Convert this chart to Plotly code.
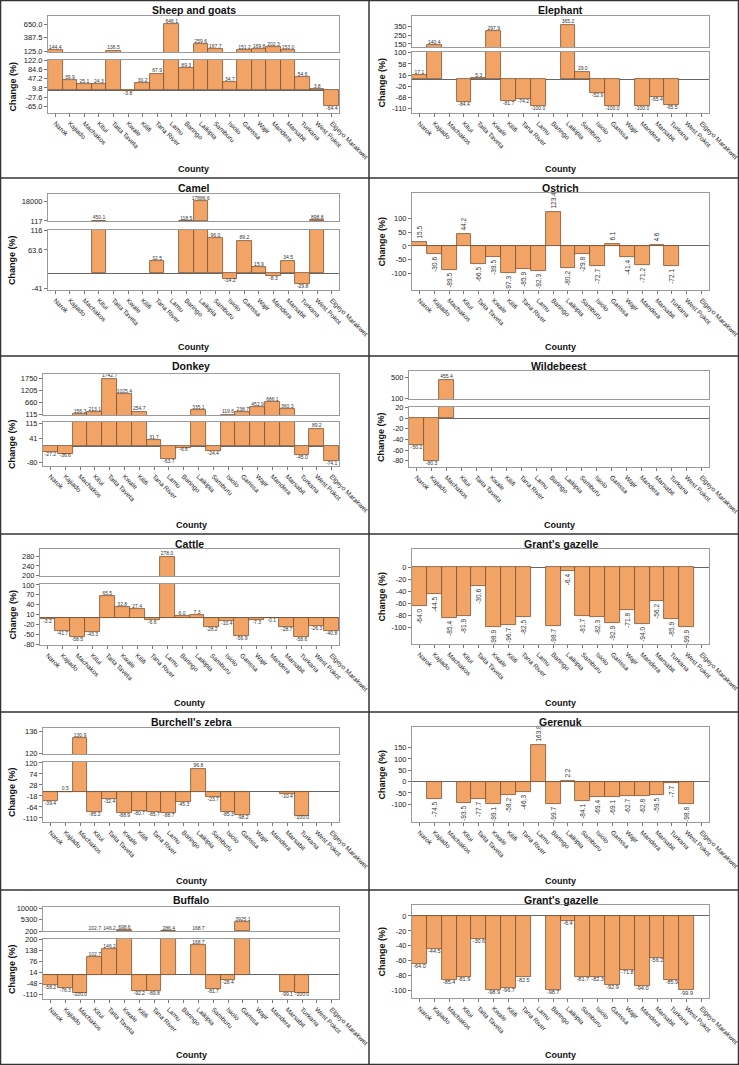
import plotly.graph_objects as go

W, H = 739, 1065

counties = ["Narok", "Kajiado", "Machakos", "Kitui", "Taita Taveta", "Kwale", "Kilifi",
            "Tana River", "Lamu", "Baringo", "Laikipia", "Samburu", "Isiolo", "Garissa",
            "Wajir", "Mandera", "Marsabit", "Turkana", "West Pokot", "Elgeyo Marakwet"]

# % change per county (None = no data)
sheep_goats = [144.4, 39.9, 25.1, 24.3, 136.5, -3.8, 30.2, 67.9, 646.1, 89.3,
               259.6, 167.7, 34.7, 151.2, 169.8, 202.3, 153.0, 54.6, 3.8, -64.4]
elephant = [17.1, 140.4, None, -84.4, 5.3, 297.9, -81.7, -74.2, -100.0, None,
            365.2, 29.0, -52.9, -100.0, None, -100.0, -65.4, -95.5, None, None]
camel = [None, None, None, 450.1, None, None, None, 32.5, None, 118.5,
         17886.6, 96.0, -14.2, 89.2, 15.9, -8.3, 34.5, -29.8, 898.8, None]
ostrich = [15.5, -30.6, -89.5, 44.2, -66.5, -39.5, -97.3, -85.9, -92.3, 123.4,
           -80.2, -29.8, -72.7, 6.1, -41.4, -71.2, 4.6, -72.1, None, None]
donkey = [-27.2, -36.6, 156.3, 213.1, 1742.7, 1025.4, 254.7, 31.7, -63.7, -6.6,
          335.1, -24.4, 119.6, 238.7, 452.9, 686.1, 360.3, -45.0, 89.2, -74.1]
wildebeest = [-50.2, -80.3, 455.4, None, None, None, None, None, None, None,
              None, None, None, None, None, None, None, None, None, None]
cattle = [-3.2, -41.7, -58.5, -43.3, 65.5, 32.8, 27.4, -6.6, 278.0, 6.0,
          7.3, -28.2, -10.4, -56.9, -7.3, -0.1, -28.7, -58.6, -26.3, -40.8]
grants_gazelle = [-64.0, -44.5, -85.4, -81.9, -30.6, -98.9, -96.7, -82.5, None, -98.7,
                  -6.4, -81.7, -82.3, -92.9, -71.8, -94.0, -56.2, -85.9, -99.9, None]
burchells_zebra = [-39.4, 0.5, 130.9, -85.2, -32.4, -88.9, -80.7, -85.7, -88.7, -45.3,
                   96.8, -23.7, -85.3, -98.2, None, None, -10.4, -100.0, None, None]
gerenuk = [None, -74.5, None, -93.5, -77.7, -99.1, -58.2, -46.3, 163.8, -99.7,
           2.2, -84.1, -69.4, -69.1, -62.7, -62.8, -59.5, -7.7, -98.8, None]
buffalo = [-58.2, -76.3, -100.0, 102.7, 146.2, 698.6, -92.2, -89.8, 286.4, None,
           168.7, -81.7, -28.4, 3925.1, None, None, -99.1, -100.0, None, None]

# tick labels of the axes
sheep_up_ticks = [125.0, 387.5, 650.0]
sheep_lo_ticks = [-65.0, -27.6, 9.8, 47.2, 84.6, 122.0]
elephant_up_ticks = [150, 250, 350]
elephant_lo_ticks = [-110, -68, -26, 16, 58, 100]
camel_up_ticks = [117, 18000]
camel_lo_ticks = [-41, 63.6, 116]
ostrich_ticks = [-100, -50, 0, 50, 100]
donkey_up_ticks = [115, 660, 1205, 1750]
donkey_lo_ticks = [-80, 41, 115]
wildebeest_up_ticks = [100, 500]
wildebeest_lo_ticks = [-80, -60, -40, -20, 0, 20]
cattle_up_ticks = [200, 240, 280]
cattle_lo_ticks = [-80, -50, -20, 10, 40, 70, 100]
gazelle_ticks = [-100, -80, -60, -40, -20, 0]
zebra_up_ticks = [120, 136]
zebra_lo_ticks = [-110, -64, -18, 28, 74, 120]
gerenuk_ticks = [-100, -50, 0, 50, 100, 150]
buffalo_up_ticks = [200, 5300, 10000]
buffalo_lo_ticks = [-110, -48, 14, 76, 138, 200]

FONT = "Liberation Sans, Arial, sans-serif"
BAR = "rgb(242,164,102)"
EDGE = "rgb(120,82,50)"
FRAME = "#9a9a9a"
TXT = "#222222"

ROW_TOP = [0, 178, 356, 534, 712, 890]
COL_LEFT = [0, 369]

panels = [
    dict(title="Sheep and goats", vals=sheep_goats, col=0, row=0, x=(48, 339), fmt="{:.1f}",
         up=(16, 52), up_range=[112, 810], up_ticks=sheep_up_ticks,
         lo=(60, 113), lo_range=[-92, 123], lo_ticks=sheep_lo_ticks, up_min=122),
    dict(title="Elephant", vals=elephant, col=1, row=0, x=(43, 340), fmt="{:g}",
         up=(16, 47), up_range=[116, 463], up_ticks=elephant_up_ticks,
         lo=(52, 113), lo_range=[-126, 102.5], lo_ticks=elephant_lo_ticks, up_min=100),
    dict(title="Camel", vals=camel, col=0, row=1, x=(48, 339), fmt="{:g}",
         up=(16, 43), up_range=[100, 24500], up_ticks=camel_up_ticks,
         lo=(52, 112), lo_range=[-45.5, 117.8], lo_ticks=camel_lo_ticks, up_min=116),
    dict(title="Ostrich", vals=ostrich, col=1, row=1, x=(43, 340), fmt="{:g}",
         box=(15, 112), range=[-161, 193], ticks=ostrich_ticks, vertical=True),
    dict(title="Donkey", vals=donkey, col=0, row=2, x=(43, 339), fmt="{:g}",
         up=(18, 59), up_range=[100, 1950], up_ticks=donkey_up_ticks,
         lo=(66, 110), lo_range=[-98, 121.7], lo_ticks=donkey_lo_ticks, up_min=115),
    dict(title="Wildebeest", vals=wildebeest, col=1, row=2, x=(40, 340), fmt="{:g}",
         up=(15, 43), up_range=[87.5, 619], up_ticks=wildebeest_up_ticks,
         lo=(51, 111), lo_range=[-92, 21.3], lo_ticks=wildebeest_lo_ticks, up_min=20),
    dict(title="Cattle", vals=cattle, col=0, row=3, x=(40, 339), fmt="{:g}",
         up=(15, 42), up_range=[199, 309], up_ticks=cattle_up_ticks,
         lo=(50, 111), lo_range=[-83, 103], lo_ticks=cattle_lo_ticks, up_min=100),
    dict(title="Grant's gazelle", vals=grants_gazelle, col=1, row=3, x=(43, 340), fmt="{:g}",
         box=(15, 110), range=[-128, 30.5], ticks=gazelle_ticks, vertical=True),
    dict(title="Burchell's zebra", vals=burchells_zebra, col=0, row=4, x=(43, 339), fmt="{:g}",
         up=(16, 42), up_range=[119.5, 138.4], up_ticks=zebra_up_ticks,
         lo=(50, 110), lo_range=[-127, 124], lo_ticks=zebra_lo_ticks, up_min=120),
    dict(title="Gerenuk", vals=gerenuk, col=1, row=4, x=(43, 340), fmt="{:g}",
         box=(15, 110), range=[-178, 241], ticks=gerenuk_ticks, vertical=True),
    dict(title="Buffalo", vals=buffalo, col=0, row=5, x=(43, 339), fmt="{:g}",
         up=(17, 41), up_range=[200, 10700], up_ticks=buffalo_up_ticks,
         lo=(49, 109), lo_range=[-136.5, 203.8], lo_ticks=buffalo_lo_ticks, up_min=100),
    dict(title="Grant's gazelle", vals=grants_gazelle, col=1, row=5, x=(43, 340), fmt="{:g}",
         box=(15, 108), range=[-110, 14.7], ticks=gazelle_ticks, vertical=False),
]

fig = go.Figure()
axes = {}
annotations = []
shapes = []
count = [0]


def px(x):
    return x / W


def py(y):
    return 1 - y / H


def new_axes(x0, x1, y0, y1, yrange, ticks, fmt, xlabels):
    count[0] += 1
    s = "" if count[0] == 1 else str(count[0])
    axes["xaxis" + s] = dict(
        domain=[px(x0), px(x1)], anchor="y" + s, type="category", range=[-0.5, 19.5],
        categoryorder="array", categoryarray=counties, automargin=False,
        showline=True, mirror=True, linecolor=FRAME, linewidth=1,
        showgrid=False, zeroline=False,
        ticks="outside" if xlabels else "", ticklen=3, tickcolor="#777",
        showticklabels=xlabels, tickangle=45, tickfont=dict(size=6.6, color=TXT))
    axes["yaxis" + s] = dict(
        domain=[py(y1), py(y0)], anchor="x" + s, range=yrange, automargin=False,
        tickmode="array", tickvals=ticks, ticktext=[fmt.format(t) for t in ticks],
        ticks="outside", ticklen=3, tickcolor="#777", tickfont=dict(size=7.5, color=TXT),
        showline=True, mirror=True, linecolor=FRAME, linewidth=1, showgrid=False,
        zeroline=True, zerolinecolor="#666", zerolinewidth=1)
    return "x" + s, "y" + s


def add_bars(vals, xa, ya, **kw):
    fig.add_trace(go.Bar(x=counties, y=vals, xaxis=xa, yaxis=ya, showlegend=False,
                         marker=dict(color=BAR, line=dict(color=EDGE, width=0.8)),
                         hoverinfo="x+y", **kw))


def add_labels(pts, xa, ya, size=5):
    if not pts:
        return
    fig.add_trace(go.Scatter(
        x=[p[0] for p in pts], y=[p[1] for p in pts], text=[p[2] for p in pts],
        textposition=["top center" if p[3] >= 0 else "bottom center" for p in pts],
        mode="text", textfont=dict(size=size, color="#333", family=FONT),
        cliponaxis=False, showlegend=False, hoverinfo="skip", xaxis=xa, yaxis=ya))


def note(x, y, text, size, angle=0):
    annotations.append(dict(x=px(x), y=py(y), xref="paper", yref="paper",
                            xanchor="center", yanchor="middle", text=text,
                            textangle=angle, showarrow=False,
                            font=dict(size=size, color="#111")))


for p in panels:
    ox, oy = COL_LEFT[p["col"]], ROW_TOP[p["row"]]
    x0, x1 = ox + p["x"][0], ox + p["x"][1]
    vals = p["vals"]
    if "up" in p:
        # broken axis: upper part only gets the bars that reach into it
        lo_up = p["up_range"][0]
        xa, ya = new_axes(x0, x1, oy + p["up"][0], oy + p["up"][1], p["up_range"],
                          p["up_ticks"], p["fmt"], False)
        add_bars([v if v is not None and v > lo_up else None for v in vals], xa, ya)
        pts = [(c, max(v, lo_up), f"{v:.1f}", v)
               for c, v in zip(counties, vals) if v is not None and v > p["up_min"]]
        add_labels(pts, xa, ya)
        xa, ya = new_axes(x0, x1, oy + p["lo"][0], oy + p["lo"][1], p["lo_range"],
                          p["lo_ticks"], p["fmt"], True)
        add_bars(vals, xa, ya)
        top = max(p["lo_ticks"])
        pts = [(c, v, f"{v:.1f}", v)
               for c, v in zip(counties, vals) if v is not None and v <= top]
        add_labels(pts, xa, ya)
        ymid = oy + (p["lo"][0] + p["lo"][1]) / 2
    else:
        xa, ya = new_axes(x0, x1, oy + p["box"][0], oy + p["box"][1], p["range"],
                          p["ticks"], p["fmt"], True)
        if p["vertical"]:
            add_bars(vals, xa, ya,
                     text=["" if v is None else f"{v:.1f}" for v in vals],
                     textposition="outside", textangle=-90, constraintext="none",
                     cliponaxis=False, textfont=dict(size=6.5, color="#333", family=FONT))
        else:
            add_bars(vals, xa, ya)
            pts = [(c, v, f"{v:.1f}", v) for c, v in zip(counties, vals) if v is not None]
            add_labels(pts, xa, ya, size=5.5)
        ymid = oy + (p["box"][0] + p["box"][1]) / 2

    xc = (x0 + x1) / 2
    note(xc, oy + 10, "<b>" + p["title"] + "</b>", 10.5)
    note(xc, oy + (165 if p["row"] == 5 else 169), "<b>County</b>", 9)
    note(ox + 12, ymid, "<b>Change (%)</b>", 9, -90)

# panel separators
line = dict(color="#333", width=1.5)
shapes.append(dict(type="line", xref="paper", yref="paper", x0=px(369), x1=px(369),
                   y0=0, y1=1, line=line))
for r in ROW_TOP[1:]:
    shapes.append(dict(type="line", xref="paper", yref="paper", x0=0, x1=1,
                       y0=py(r), y1=py(r), line=line))
shapes.append(dict(type="rect", xref="paper", yref="paper", x0=px(0.5), x1=px(738.5),
                   y0=py(1064.5), y1=py(0.5), line=line))

fig.update_layout(
    width=W, height=H, margin=dict(l=0, r=0, t=0, b=0, autoexpand=False),
    paper_bgcolor="white", plot_bgcolor="white",
    font=dict(family=FONT, color=TXT),
    bargap=0, showlegend=False,
    annotations=annotations, shapes=shapes, **axes)

fig.write_html("out.html", config={"displayModeBar": False},
               post_script="document.body.style.margin='0';document.body.style.overflow='hidden';")
